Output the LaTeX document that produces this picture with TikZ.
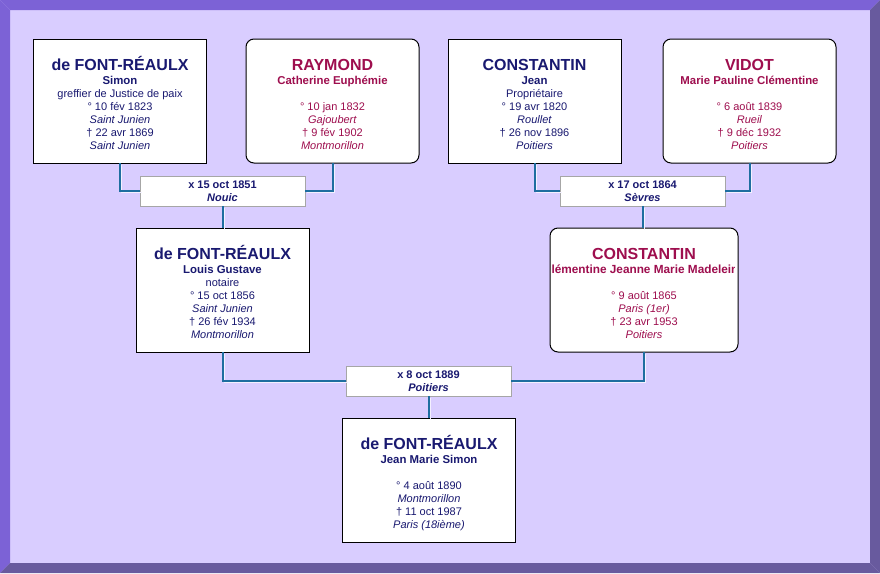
\documentclass[tikz,border=0pt]{standalone}
\usepackage{fontspec}
\setmainfont{Liberation Sans}
\definecolor{navy}{RGB}{25,25,112}
\definecolor{crim}{RGB}{158,14,78}
\definecolor{linkblue}{RGB}{30,110,160}
\definecolor{lav}{RGB}{217,205,255}
\definecolor{frametop}{RGB}{124,98,214}
\definecolor{framebot}{RGB}{104,90,158}
\newcommand{\surn}{\bfseries\fontsize{16}{16}\selectfont}
\newcommand{\givn}{\bfseries\fontsize{11.4}{13}\selectfont}
\newcommand{\toprule}{\rule{0pt}{18pt}}
\tikzset{
  malebox/.style={draw=black, line width=1pt, fill=white, minimum width=173pt, minimum height=124pt, inner sep=0pt, outer sep=0pt},
  femalebox/.style={malebox, rounded corners=8pt},
  marr/.style={draw=black!35, fill=white, line width=1pt, minimum width=165pt, minimum height=30pt, inner sep=0pt, outer sep=0pt, align=center, font=\bfseries\fontsize{11}{12.6}\selectfont, text=navy},
  ptext/.style={inner sep=0pt, outer sep=0pt, align=center, anchor=north, font=\fontsize{11}{13}\selectfont},
  conn/.style={draw=linkblue, line width=2pt},
  connshadow/.style={draw=white!70!lav, line width=1.2pt, transform canvas={shift={(1.6pt,-1.6pt)}}}
}
\begin{document}
\begin{tikzpicture}[x=1pt,y=-1pt]
\useasboundingbox (0,0) rectangle (880,573);
% frame
\fill[lav] (0,0) rectangle (880,573);
\fill[frametop] (0,0) -- (880,0) -- (870,10) -- (10,10) -- cycle;
\fill[frametop] (0,0) -- (10,10) -- (10,563) -- (0,573) -- cycle;
\fill[framebot] (880,0) -- (880,573) -- (870,563) -- (870,10) -- cycle;
\fill[framebot] (0,573) -- (880,573) -- (870,563) -- (10,563) -- cycle;

% person boxes
\node[malebox] (b1) at (120,101) {};
\node[femalebox] (b2) at (332.5,101) {};
\node[malebox] (b3) at (534.5,101) {};
\node[femalebox] (b4) at (749.5,101) {};
\node[malebox] (b5) at (222.5,290) {};
\node[femalebox, minimum width=188pt] (b6) at (644,290) {};
\node[malebox] (b7) at (429,480) {};

% marriage boxes
\node[marr] (m1) at (222.5,191) {x 15 oct 1851\\ \textit{Nouic}};
\node[marr] (m2) at (642.5,191) {x 17 oct 1864\\ \textit{Sèvres}};
\node[marr] (m3) at (428.5,381) {x 8 oct 1889\\ \textit{Poitiers}};

% connectors
\begin{scope}
\draw[connshadow] (b1.south) |- (m1.west);
\draw[connshadow] (b2.south) |- (m1.east);
\draw[connshadow] (m1.south) -- (b5.north);
\draw[connshadow] (b3.south) |- (m2.west);
\draw[connshadow] (b4.south) |- (m2.east);
\draw[connshadow] (m2.south) -- (m2.south |- b6.north);
\draw[connshadow] (b5.south) |- (m3.west);
\draw[connshadow] (b6.south) |- (m3.east);
\draw[connshadow] (m3.south) -- (m3.south |- b7.north);
\end{scope}
\draw[conn] (b1.south) |- (m1.west);
\draw[conn] (b2.south) |- (m1.east);
\draw[conn] (m1.south) -- (b5.north);
\draw[conn] (b3.south) |- (m2.west);
\draw[conn] (b4.south) |- (m2.east);
\draw[conn] (m2.south) -- (m2.south |- b6.north);
\draw[conn] (b5.south) |- (m3.west);
\draw[conn] (b6.south) |- (m3.east);
\draw[conn] (m3.south) -- (m3.south |- b7.north);

% texts
\node[ptext, text=navy] (b1t) at ([yshift=-13.5pt]b1.north)
  {\toprule{\surn de FONT-RÉAULX}\\[1pt] {\givn Simon}\\ greffier de Justice de paix\\ ° 10 fév 1823\\ \textit{Saint Junien}\\ † 22 avr 1869\\ \textit{Saint Junien}};
\node[ptext, text=crim] (b2t) at ([yshift=-13.5pt]b2.north)
  {\toprule{\surn RAYMOND}\\[1pt] {\givn Catherine Euphémie}\\ \mbox{}\\ ° 10 jan 1832\\ \textit{Gajoubert}\\ † 9 fév 1902\\ \textit{Montmorillon}};
\node[ptext, text=navy] (b3t) at ([yshift=-13.5pt]b3.north)
  {\toprule{\surn CONSTANTIN}\\[1pt] {\givn Jean}\\ Propriétaire\\ ° 19 avr 1820\\ \textit{Roullet}\\ † 26 nov 1896\\ \textit{Poitiers}};
\node[ptext, text=crim] (b4t) at ([yshift=-13.5pt]b4.north)
  {\toprule{\surn VIDOT}\\[1pt] {\givn Marie Pauline Clémentine}\\ \mbox{}\\ ° 6 août 1839\\ \textit{Rueil}\\ † 9 déc 1932\\ \textit{Poitiers}};
\node[ptext, text=navy] (b5t) at ([yshift=-13.5pt]b5.north)
  {\toprule{\surn de FONT-RÉAULX}\\[1pt] {\givn Louis Gustave}\\ notaire\\ ° 15 oct 1856\\ \textit{Saint Junien}\\ † 26 fév 1934\\ \textit{Montmorillon}};
\begin{scope}
\clip ([xshift=2pt]b6.south west) rectangle ([xshift=-4pt]b6.north east);
\node[ptext, text=crim] (b6t) at ([yshift=-13.5pt]b6.north)
  {\toprule{\surn CONSTANTIN}\\[1pt] {\bfseries\fontsize{11.8}{13}\selectfont Clémentine Jeanne Marie Madeleine}\\ \mbox{}\\ ° 9 août 1865\\ \textit{Paris (1er)}\\ † 23 avr 1953\\ \textit{Poitiers}};
\end{scope}
\node[ptext, text=navy] (b7t) at ([yshift=-13.5pt]b7.north)
  {\toprule{\surn de FONT-RÉAULX}\\[1pt] {\givn Jean Marie Simon}\\ \mbox{}\\ ° 4 août 1890\\ \textit{Montmorillon}\\ † 11 oct 1987\\ \textit{Paris (18ième)}};
\end{tikzpicture}
\end{document}
